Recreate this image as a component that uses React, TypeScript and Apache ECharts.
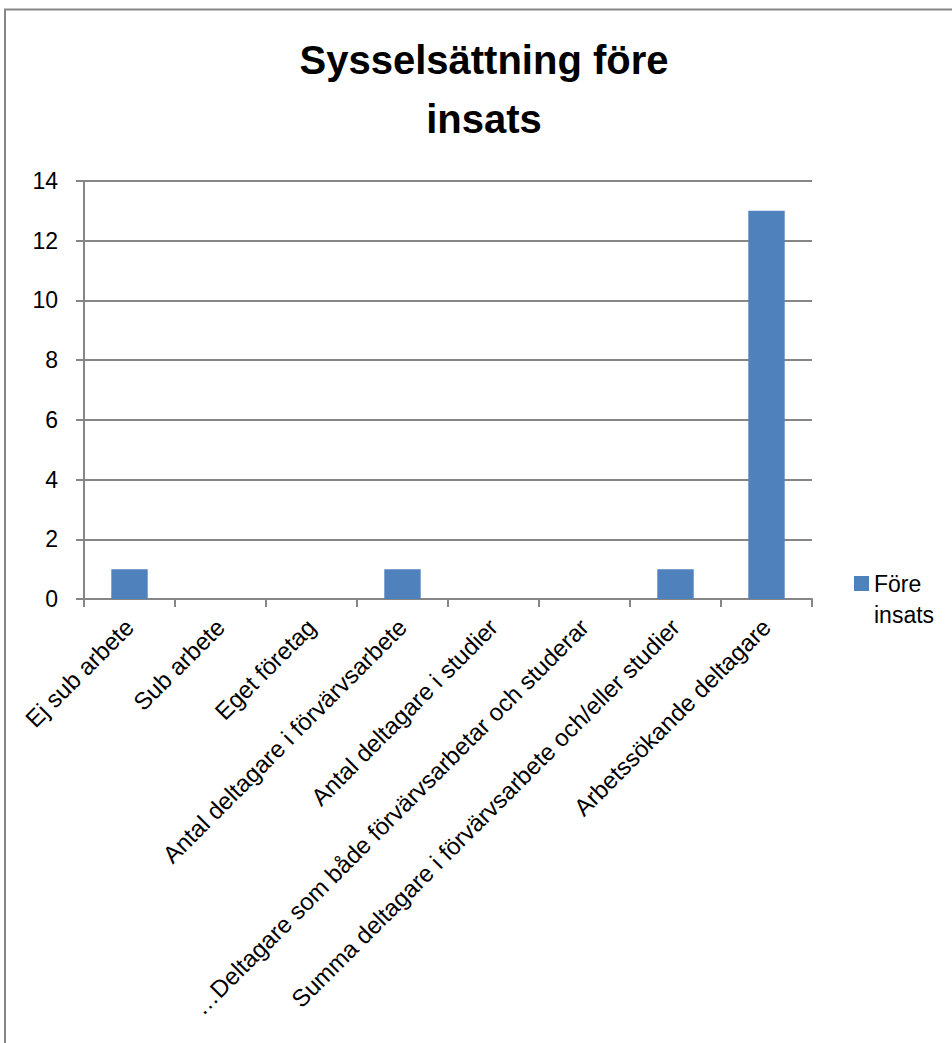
import React, { useEffect, useRef } from "react";
import * as echarts from "echarts";

const categories = [
  "Ej sub arbete",
  "Sub arbete",
  "Eget företag",
  "Antal deltagare i förvärvsarbete",
  "Antal deltagare i studier",
  "…Deltagare som både förvärvsarbetar och studerar",
  "Summa deltagare i förvärvsarbete och/eller studier",
  "Arbetssökande deltagare",
];
const foreInsats = [1, 0, 0, 1, 0, 0, 1, 13];
const seriesName = "Före insats";
const titleText = "Sysselsättning före\ninsats";
const yMin = 0;
const yMax = 14;
const yInterval = 2;

const FONT = "'Liberation Sans', Arial, sans-serif";
const GRAY = "#868686";
const BAR = "#4F81BD";

export default function App() {
  const ref = useRef<HTMLDivElement>(null);
  useEffect(() => {
    if (!ref.current) return;
    const chart = echarts.init(ref.current, undefined, { renderer: "svg" });
    chart.setOption({
      animation: false,
      backgroundColor: "#ffffff",
      textStyle: { fontFamily: FONT },
      title: {
        text: titleText,
        left: 484,
        top: 30,
        padding: 0,
        textAlign: "center",
        textStyle: {
          fontFamily: FONT,
          fontSize: 40,
          fontWeight: "bold",
          color: "#000",
          lineHeight: 59,
        },
      },
      graphic: [
        {
          type: "rect",
          shape: { x: 5, y: 9.5, width: 1000, height: 1100 },
          style: { fill: "none", stroke: GRAY, lineWidth: 2 },
          silent: true,
        },
      ],
      legend: {
        orient: "vertical",
        left: 854,
        top: 537,
        padding: 0,
        itemWidth: 15,
        itemHeight: 15,
        icon: "rect",
        formatter: (name: string) => "\n" + name.replace(" ", "\n"),
        textStyle: {
          fontFamily: FONT,
          fontSize: 23,
          color: "#000",
          lineHeight: 31,
        },
        data: [seriesName],
      },
      grid: {
        left: 84,
        top: 181,
        width: 728,
        height: 418,
        containLabel: false,
      },
      xAxis: {
        type: "category",
        data: categories,
        boundaryGap: true,
        axisLine: { show: true, lineStyle: { color: GRAY, width: 2 } },
        axisTick: { show: true, length: 8, lineStyle: { color: GRAY, width: 2 } },
        axisLabel: {
          interval: 0,
          rotate: 45,
          margin: 24,
          fontFamily: FONT,
          fontSize: 24,
          color: "#000",
        },
      },
      yAxis: {
        type: "value",
        min: yMin,
        max: yMax,
        interval: yInterval,
        axisLine: { show: true, lineStyle: { color: GRAY, width: 2 } },
        axisTick: { show: true, length: 8, lineStyle: { color: GRAY, width: 2 } },
        axisLabel: {
          margin: 26,
          fontFamily: FONT,
          fontSize: 23,
          color: "#000",
        },
        splitLine: { show: true, lineStyle: { color: GRAY, width: 2 } },
      },
      series: [
        {
          name: seriesName,
          type: "bar",
          data: foreInsats,
          barWidth: "40%",
          itemStyle: { color: BAR },
        },
      ],
    });
    return () => chart.dispose();
  }, []);
  return (
    <div
      ref={ref}
      style={{ position: "absolute", left: 0, top: 0, width: 952, height: 1043 }}
    />
  );
}
